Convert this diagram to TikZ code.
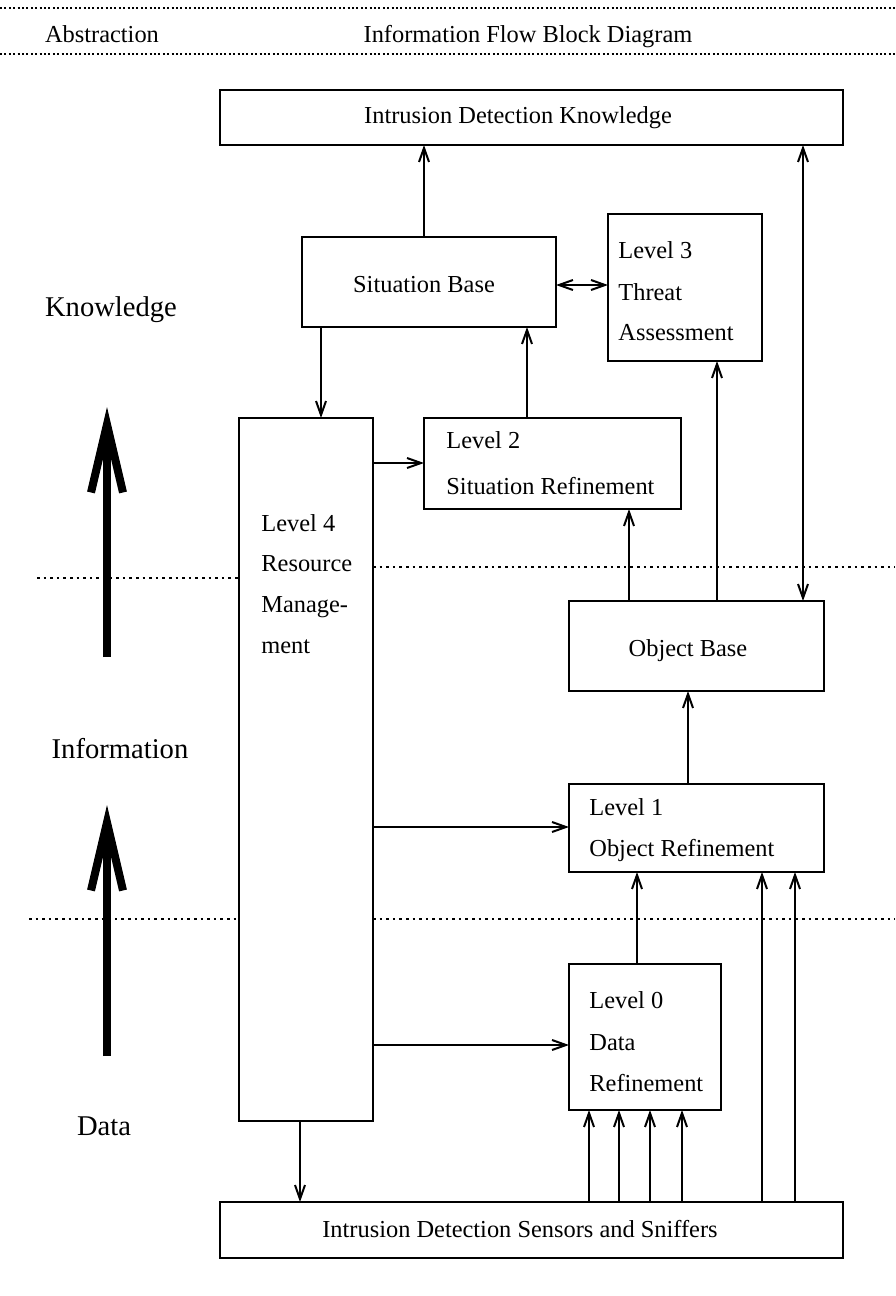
\documentclass[tikz,border=0pt]{standalone}
\usepackage{fontspec}
\setmainfont{Liberation Serif}
\usetikzlibrary{arrows.meta}
\begin{document}
\begin{tikzpicture}[x=0.5pt,y=-0.5pt,
  box/.style={draw, line width=1pt, inner sep=0pt, outer sep=0pt},
  txt/.style={font=\fontsize{12.2}{14}\selectfont, inner sep=0pt},
  lbl/.style={font=\fontsize{14.3}{16}\selectfont, inner sep=0pt},
  flow/.style={line width=1pt, -{Straight Barb[length=7pt,width=5pt]}},
  both/.style={line width=1pt, {Straight Barb[length=7pt,width=5pt]}-{Straight Barb[length=7pt,width=5pt]}},
  level/.style={line width=1pt, dash pattern=on 1.3pt off 2pt},
  header/.style={line width=1pt, dash pattern=on 1pt off 1.2pt},
  bigarrow/.style={line width=4pt, -{Straight Barb[length=34pt,width=16pt]}}
]
\useasboundingbox (0,0) rectangle (895,1296);

% header rules and titles
\coordinate (h1a) at (0,8);   \coordinate (h1b) at (895,8);
\coordinate (h2a) at (0,54);  \coordinate (h2b) at (895,54);
\draw[header] (h1a) -- (h1b);
\draw[header] (h2a) -- (h2b);
\node[txt, anchor=base] (tabs) at (102,42) {Abstraction};
\node[txt, anchor=base] (tifb) at (528,42) {Information Flow Block Diagram};

% blocks
\node[box, minimum width=311.5pt, minimum height=27.5pt] (idk) at (531.5,117.5) {};
\node[box, minimum width=127pt,   minimum height=45pt]   (sb)  at (429,282) {};
\node[box, minimum width=77pt,    minimum height=73.5pt] (l3)  at (685,287.5) {};
\node[box, minimum width=67pt,    minimum height=351.5pt](l4)  at (306,769.5) {};
\node[box, minimum width=128.5pt, minimum height=45.5pt] (l2)  at (552.5,463.5) {};
\node[box, minimum width=127.5pt, minimum height=45pt]   (ob)  at (696.5,646) {};
\node[box, minimum width=127.5pt, minimum height=44pt]   (l1)  at (696.5,828) {};
\node[box, minimum width=76pt,    minimum height=73pt]   (l0)  at (645,1037) {};
\node[box, minimum width=311.5pt, minimum height=28pt]   (ids) at (531.5,1230) {};

% block texts
\node[txt, anchor=base] (tidk) at (518,123) {Intrusion Detection Knowledge};
\node[txt, anchor=base] (tsb)  at (424,292) {Situation Base};
\node[txt, anchor=base west] (t3a) at (618,258) {Level 3};
\node[txt, anchor=base west] (t3b) at (618,300) {Threat};
\node[txt, anchor=base west] (t3c) at (618,340) {Assessment};
\node[txt, anchor=base west] (t4a) at (261,531) {Level 4};
\node[txt, anchor=base west] (t4b) at (261,571) {Resource};
\node[txt, anchor=base west] (t4c) at (261,612) {Manage-};
\node[txt, anchor=base west] (t4d) at (261,653) {ment};
\node[txt, anchor=base west] (t2a) at (446,448) {Level 2};
\node[txt, anchor=base west] (t2b) at (446,494) {Situation Refinement};
\node[txt, anchor=base] (tob) at (688,656) {Object Base};
\node[txt, anchor=base west] (t1a) at (589,815) {Level 1};
\node[txt, anchor=base west] (t1b) at (589,856) {Object Refinement};
\node[txt, anchor=base west] (t0a) at (589,1008) {Level 0};
\node[txt, anchor=base west] (t0b) at (589,1050) {Data};
\node[txt, anchor=base west] (t0c) at (589,1091) {Refinement};
\node[txt, anchor=base] (tids) at (520,1237) {Intrusion Detection Sensors and Sniffers};

% abstraction levels
\node[lbl, anchor=base] (lk) at (111,316) {Knowledge};
\node[lbl, anchor=base] (li) at (120,758) {Information};
\node[lbl, anchor=base] (ld) at (104,1135) {Data};

\coordinate (ka) at (107,657);  \coordinate (kb) at (107,407);
\coordinate (ia) at (107,1056); \coordinate (ib) at (107,805);
\draw[bigarrow] (ka) -- (kb);
\draw[bigarrow] (ia) -- (ib);

% dotted level separators
\coordinate (d1l) at (37,578);  \coordinate (d1r) at (895,567);
\coordinate (d2l) at (29,919);  \coordinate (d2r) at (895,919);
\draw[level] (d1l) -- (l4.west |- d1l);
\draw[level] (l4.east |- d1r) -- (d1r);
\draw[level] (d2l) -- (l4.west |- d2l);
\draw[level] (l4.east |- d2r) -- (d2r);

% connector columns and rows
\coordinate (xa) at (424,0);
\coordinate (xb) at (321,0);
\coordinate (xc) at (527,0);
\coordinate (xd) at (629,0);
\coordinate (xe) at (717,0);
\coordinate (xf) at (803,0);
\coordinate (xg) at (688,0);
\coordinate (xh) at (637,0);
\coordinate (xi) at (300,0);
\coordinate (ya) at (0,463);
\coordinate (yb) at (0,827);
\coordinate (yc) at (0,1045);
\coordinate (ys) at (0,285);

\draw[flow] (sb.north -| xa) -- (idk.south -| xa);
\draw[both] (sb.east |- ys) -- (l3.west |- ys);
\draw[flow] (sb.south -| xb) -- (l4.north -| xb);
\draw[flow] (l2.north -| xc) -- (sb.south -| xc);
\draw[flow] (l4.east |- ya) -- (l2.west |- ya);
\draw[flow] (ob.north -| xd) -- (l2.south -| xd);
\draw[flow] (ob.north -| xe) -- (l3.south -| xe);
\draw[both] (idk.south -| xf) -- (ob.north -| xf);
\draw[flow] (l1.north -| xg) -- (ob.south -| xg);
\draw[flow] (l4.east |- yb) -- (l1.west |- yb);
\draw[flow] (l0.north -| xh) -- (l1.south -| xh);
\draw[flow] (l4.east |- yc) -- (l0.west |- yc);
\draw[flow] (l4.south -| xi) -- (ids.north -| xi);
\foreach \sx in {589,619,650,682} {
  \coordinate (sc) at (\sx,0);
  \draw[flow] (ids.north -| sc) -- (l0.south -| sc);
}
\foreach \sx in {762,795} {
  \coordinate (sc) at (\sx,0);
  \draw[flow] (ids.north -| sc) -- (l1.south -| sc);
}
\end{tikzpicture}
\end{document}
